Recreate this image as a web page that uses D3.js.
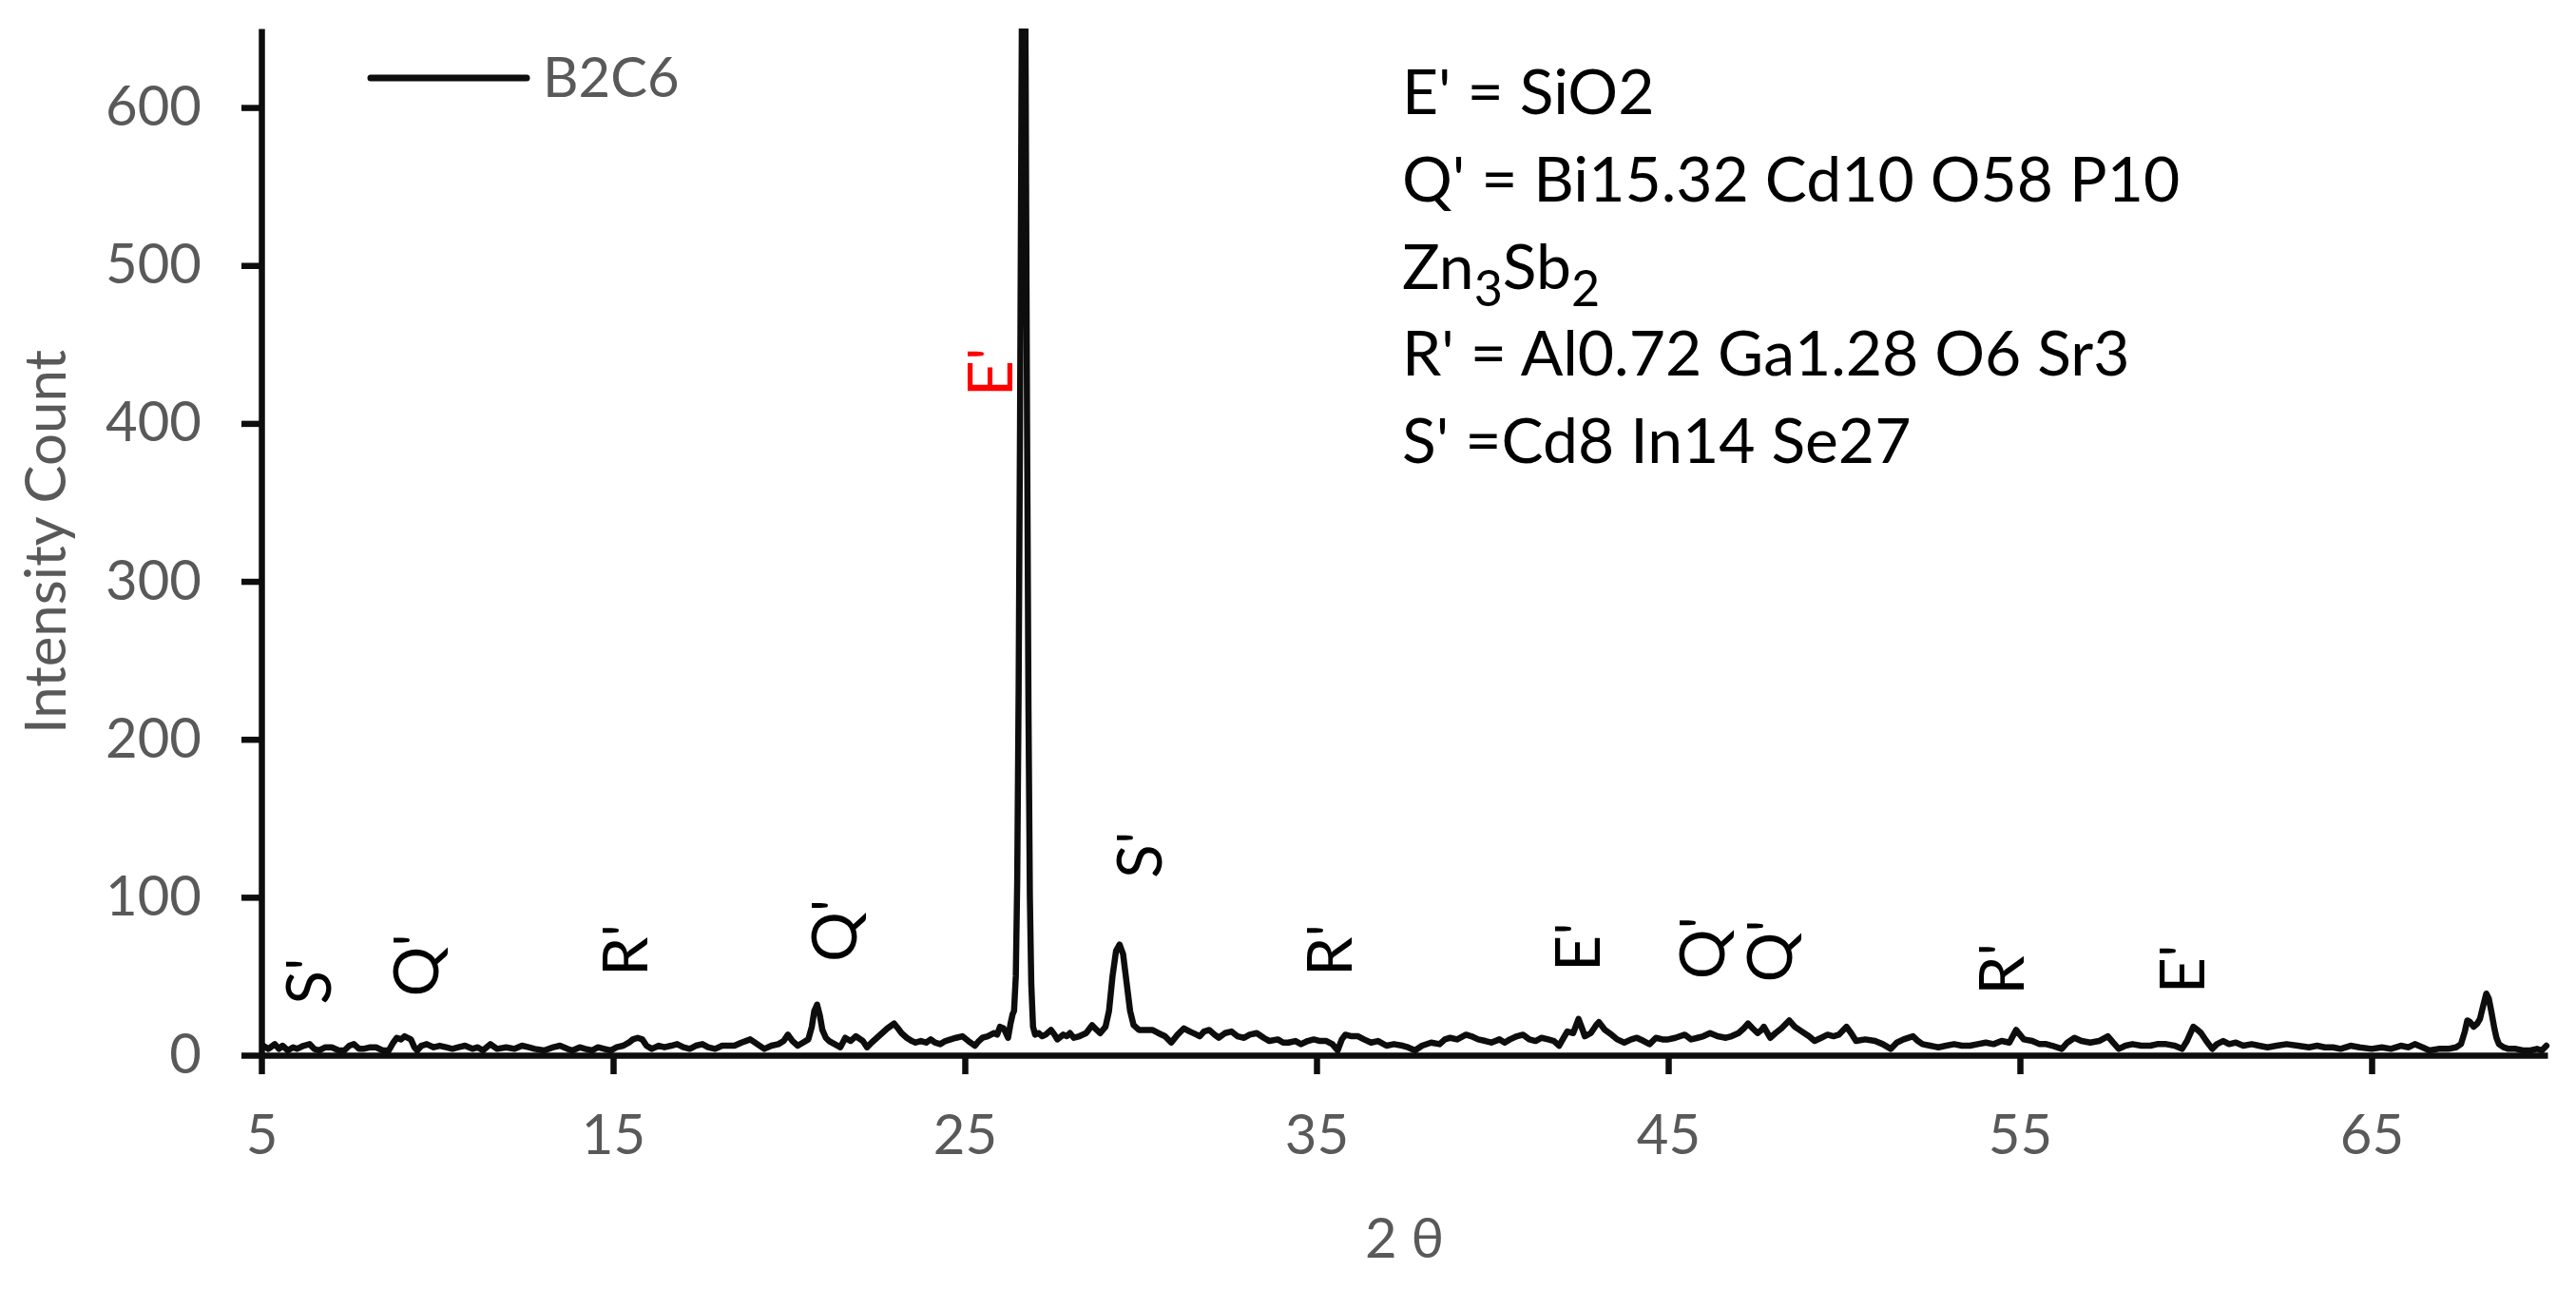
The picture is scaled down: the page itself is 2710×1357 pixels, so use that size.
<!DOCTYPE html>
<html>
<head>
<meta charset="utf-8">
<script src="https://cdn.jsdelivr.net/npm/d3@7"></script>
<style>
  html, body { margin: 0; padding: 0; background: #ffffff; }
  svg { display: block; }
  text { font-family: Lato, "Open Sans", sans-serif; }
</style>
</head>
<body>
<script>
// ---------- DATA ----------
const seriesName = "B2C6";
const theta = [5.05,5.2,5.38,5.5,5.6,5.75,5.9,6.01,6.2,6.37,6.5,6.64,6.82,7.0,7.2,7.36,7.5,7.63,7.78,7.9,8.1,8.26,8.45,8.62,8.75,8.85,8.97,9.07,9.25,9.35,9.43,9.55,9.7,9.9,10.07,10.25,10.43,10.6,10.79,11.0,11.15,11.3,11.51,11.7,11.96,12.2,12.41,12.6,12.77,13.04,13.3,13.49,13.7,13.85,14.05,14.21,14.4,14.57,14.75,14.93,15.1,15.29,15.45,15.56,15.7,15.83,15.95,16.1,16.3,16.46,16.65,16.82,17.0,17.18,17.35,17.54,17.7,17.9,18.1,18.26,18.45,18.65,18.9,19.1,19.3,19.5,19.7,19.85,19.97,20.1,20.25,20.4,20.55,20.65,20.72,20.8,20.88,20.95,21.05,21.14,21.3,21.46,21.6,21.75,21.9,22.1,22.22,22.35,22.5,22.65,22.8,22.99,23.1,23.2,23.35,23.49,23.6,23.75,23.9,24.03,24.15,24.3,24.45,24.6,24.75,24.93,25.1,25.29,25.4,25.5,25.65,25.83,25.92,26.0,26.1,26.15,26.23,26.3,26.36,26.4,26.45,26.49,26.53,26.57,26.61,26.65,26.69,26.73,26.77,26.81,26.85,26.89,26.94,27.0,27.1,27.2,27.3,27.45,27.55,27.63,27.8,27.9,27.99,28.1,28.26,28.45,28.62,28.75,28.85,29.0,29.1,29.2,29.3,29.4,29.5,29.6,29.7,29.8,29.95,30.15,30.33,30.5,30.69,30.87,31.05,31.23,31.4,31.59,31.68,31.8,31.95,32.1,32.22,32.4,32.58,32.75,32.94,33.1,33.3,33.5,33.66,33.9,34.05,34.2,34.4,34.56,34.75,34.92,35.1,35.28,35.45,35.6,35.72,35.82,36.0,36.18,36.35,36.55,36.75,36.99,37.2,37.45,37.6,37.8,38.0,38.26,38.5,38.65,38.8,39.0,39.25,39.4,39.6,39.8,39.97,40.2,40.35,40.5,40.7,40.87,41.05,41.23,41.4,41.59,41.75,41.9,42.0,42.13,42.3,42.45,42.55,42.63,42.8,42.95,43.03,43.2,43.39,43.55,43.75,43.95,44.11,44.3,44.47,44.65,44.84,45.0,45.2,45.47,45.65,45.83,46.0,46.19,46.4,46.64,46.8,47.0,47.15,47.27,47.4,47.54,47.65,47.72,47.9,48.05,48.22,48.44,48.6,48.8,49.0,49.16,49.35,49.53,49.7,49.85,50.07,50.2,50.34,50.6,50.88,51.1,51.33,51.5,51.69,51.96,52.1,52.23,52.45,52.68,52.9,53.13,53.35,53.58,53.8,54.03,54.25,54.48,54.7,54.89,55.0,55.11,55.35,55.56,55.75,55.92,56.19,56.35,56.55,56.75,57.0,57.25,57.5,57.65,57.81,58.0,58.2,58.45,58.71,58.9,59.16,59.4,59.61,59.75,59.93,60.05,60.15,60.3,60.47,60.6,60.78,60.95,61.14,61.35,61.59,61.8,62.04,62.3,62.58,62.9,63.22,63.45,63.67,63.9,64.12,64.4,64.66,65.0,65.29,65.55,65.83,66.05,66.23,66.45,66.64,66.9,67.18,67.4,67.54,67.65,67.72,67.8,67.9,68.0,68.08,68.18,68.26,68.33,68.4,68.49,68.55,68.62,68.75,68.89,69.1,69.3,69.52,69.7,69.84,69.97];
const counts = [6,4,7,4,6,3,5,4,6,7,4,3,5,5,3,3,6,7,4,4,5,5,3,3,8,11,10,12,10,5,3,6,7,5,6,5,4,5,6,4,5,3,7,4,5,4,6,5,4,3,5,6,4,3,5,4,3,5,4,3,5,6,8,10,11,10,6,4,6,5,6,7,5,4,6,7,5,4,6,6,6,8,10,7,4,6,7,9,13,9,6,8,10,18,28,32,25,16,11,9,7,5,11,9,12,9,5,8,11,14,17,20,17,14,11,9,8,9,8,10,8,7,9,10,11,12,9,6,9,11,12,14,13,18,17,15,11,20,26,28,50,110,230,400,600,780,800,620,400,220,100,45,18,13,14,12,13,16,13,10,13,12,14,11,12,14,19,16,14,18,28,50,66,70,64,46,28,19,16,16,16,14,12,8,13,17,15,13,12,15,16,13,11,14,15,12,11,13,14,11,9,10,8,8,9,7,9,10,9,9,7,3,10,13,12,12,10,8,9,6,7,6,5,3,6,8,7,10,11,10,13,12,10,9,8,10,8,10,12,13,10,9,11,10,9,6,10,15,14,23,17,12,14,19,21,16,13,10,8,10,11,9,7,11,10,10,11,13,10,11,12,14,12,11,12,14,17,20,17,14,16,18,11,14,17,22,18,15,12,9,11,13,12,13,18,14,9,10,9,7,4,8,10,12,9,7,6,5,6,7,6,6,7,8,7,9,8,16,13,10,9,7,7,6,4,8,11,9,8,9,12,8,4,6,7,6,6,7,7,6,4,9,18,16,14,9,4,7,9,7,8,6,7,6,5,6,7,6,5,6,5,5,4,6,5,4,5,4,6,5,7,5,3,4,4,5,7,15,22,21,18,20,23,32,39,36,28,17,11,7,5,4,4,3,3,4,3,6];

const xTicks = [5, 15, 25, 35, 45, 55, 65];
const yTicks = [0, 100, 200, 300, 400, 500, 600];
const xDomain = [5, 70];
const yDomain = [0, 650];

// peak labels: phase letter, 2θ of label centre, intensity where the label starts
const peakLabel = ["S'", "Q'", "R'", "Q'", "E'", "S'", "R'", "E'", "Q'", "Q'", "R'", "E'"];
const peakTheta = [6.33, 9.38, 15.33, 21.26, 25.69, 29.94, 35.35, 42.41, 45.95, 47.87, 54.45, 59.59];
const peakCount = [32, 37, 50, 59, 417, 112, 50, 53, 48, 46, 38, 39];
const peakHighlight = [false, false, false, false, true, false, false, false, false, false, false, false];

// phase key (text block)
const phaseKey = [
  [{t: "E' = SiO2"}],
  [{t: "Q' = Bi15.32 Cd10 O58 P10"}],
  [{t: "Zn"}, {t: "3", sub: true}, {t: "Sb"}, {t: "2", sub: true}],
  [{t: "R' = Al0.72 Ga1.28 O6 Sr3"}],
  [{t: "S' =Cd8 In14 Se27"}]
];
const xTitle = "2 θ";
const yTitle = "Intensity Count";

// ---------- CHART ----------
const W = 2710, H = 1357;
const plot = {left: 275, right: 2680, top: 30, bottom: 1110};
const axisColor = "#0d0d0d", textGray = "#595959";

const svg = d3.select("body").append("svg")
  .attr("width", W).attr("height", H)
  .style("background", "#fff");

const x = d3.scaleLinear().domain(xDomain).range([plot.left, plot.right]);
const y = d3.scaleLinear().domain(yDomain).range([plot.bottom, plot.top]);

svg.append("defs").append("clipPath").attr("id", "plotclip")
  .append("rect")
  .attr("x", plot.left).attr("y", plot.top)
  .attr("width", plot.right - plot.left + 10)
  .attr("height", plot.bottom - plot.top);

const data = theta.map((t, i) => ({t, c: counts[i]}));

// data line
svg.append("path")
  .datum(data)
  .attr("clip-path", "url(#plotclip)")
  .attr("fill", "none")
  .attr("stroke", axisColor)
  .attr("stroke-width", 6.5)
  .attr("stroke-linejoin", "round")
  .attr("stroke-linecap", "round")
  .attr("d", d3.line().x(d => x(d.t)).y(d => y(d.c)));

// axes
const yAxis = svg.append("g")
  .attr("transform", `translate(${plot.left},0)`)
  .call(d3.axisLeft(y).tickValues(yTicks).tickSize(21).tickSizeOuter(0).tickPadding(42));
const xAxis = svg.append("g")
  .attr("transform", `translate(0,${plot.bottom})`)
  .call(d3.axisBottom(x).tickValues(xTicks).tickSize(20).tickSizeOuter(0).tickPadding(43));

[yAxis, xAxis].forEach(g => {
  g.select(".domain").attr("stroke", axisColor).attr("stroke-width", 6.5);
  g.selectAll(".tick line").attr("stroke", axisColor).attr("stroke-width", 6.5);
  g.selectAll(".tick text").attr("fill", textGray)
    .style("font-size", "58px").style("font-family", "Lato, sans-serif");
});

// axis titles
svg.append("text")
  .attr("transform", `translate(69,${(plot.top + plot.bottom) / 2}) rotate(-90)`)
  .attr("text-anchor", "middle")
  .attr("fill", textGray)
  .style("font-size", "60px")
  .text(yTitle);

svg.append("text")
  .attr("x", (plot.left + plot.right) / 2)
  .attr("y", 1323)
  .attr("text-anchor", "middle")
  .attr("fill", textGray)
  .style("font-size", "58px")
  .text(xTitle);

// legend
svg.append("line")
  .attr("x1", 390).attr("x2", 554).attr("y1", 82).attr("y2", 82)
  .attr("stroke", axisColor).attr("stroke-width", 7).attr("stroke-linecap", "round");
svg.append("text")
  .attr("x", 571).attr("y", 102)
  .attr("fill", textGray)
  .style("font-size", "58px")
  .text(seriesName);

// phase key
const key = svg.append("g");
phaseKey.forEach((parts, i) => {
  const t = key.append("text")
    .attr("x", 1475).attr("y", 120 + i * 91.8)
    .attr("fill", "#000")
    .style("font-size", "66px");
  let shifted = false;
  parts.forEach(p => {
    const ts = t.append("tspan").text(p.t);
    if (p.sub) {
      ts.style("font-size", "52px").attr("dy", shifted ? 0 : 18);
      shifted = true;
    } else if (shifted) {
      ts.attr("dy", -18);
      shifted = false;
    }
  });
});

// peak labels
const capHalf = 24;
svg.append("g").selectAll("text")
  .data(peakLabel.map((l, i) => ({l, t: peakTheta[i], c: peakCount[i], hi: peakHighlight[i]})))
  .join("text")
  .attr("transform", d => `translate(${x(d.t) + capHalf},${y(d.c)}) rotate(-90)`)
  .attr("text-anchor", "start")
  .attr("fill", d => d.hi ? "#ff0000" : "#000")
  .style("font-size", "66px")
  .text(d => d.l);
</script>
</body>
</html>
